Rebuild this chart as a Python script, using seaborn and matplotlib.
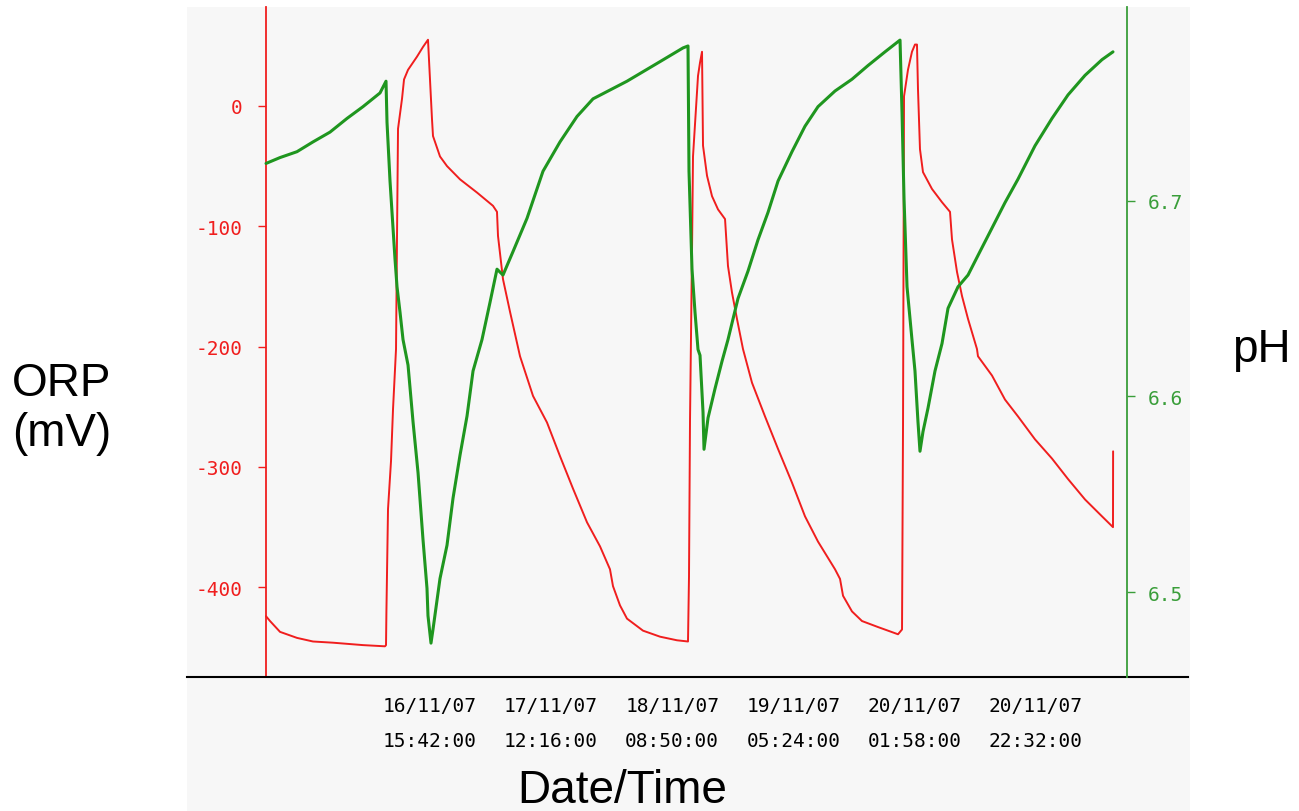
import datetime as dt
import matplotlib
matplotlib.use("Agg")
import matplotlib.pyplot as plt
import matplotlib.dates as mdates
from matplotlib.patches import Rectangle
import pandas as pd
import seaborn as sns

# Начало записи (часы ниже отсчитываются от этого момента)
start = dt.datetime(2007, 11, 15, 11, 51)

# ORP, мВ
orp_hours = [0.0, 0.68, 2.38, 5.26, 7.98, 11.38, 16.47, 20.21, 20.38, 20.45,
             20.72, 21.23, 21.57, 22.08, 22.25, 22.42, 23.10, 23.44, 24.12, 25.65,
             26.66, 27.51, 28.19, 28.36, 29.55, 30.74, 32.95, 35.84, 38.55, 39.23,
             39.40, 40.25, 41.44, 43.14, 45.35, 47.72, 49.93, 52.14, 54.52, 56.73,
             58.42, 58.93, 60.12, 61.31, 64.03, 66.92, 69.80, 71.67, 71.84, 72.01,
             72.35, 72.52, 73.37, 73.71, 74.05, 74.22, 74.90, 75.75, 76.77, 77.96,
             78.46, 79.14, 79.99, 81.01, 82.54, 84.75, 86.96, 89.33, 91.54, 93.75,
             96.64, 97.49, 98.00, 99.52, 101.22, 103.94, 107.34, 108.02, 108.19, 108.36,
             109.03, 109.71, 110.22, 110.56, 110.73, 111.07, 111.58, 113.11, 114.81, 116.17,
             116.51, 117.36, 118.21, 119.23, 120.75, 120.92, 123.30, 125.51, 127.72, 130.60,
             133.49, 136.21, 139.10, 141.98, 143.85, 143.87]
orp_mv = [-424, -428, -437, -442, -445, -446, -448, -449, -448, -420,
          -335, -295, -252, -202, -108, -19, 6, 22, 30, 41,
          49, 55, -11, -25, -42, -50, -61, -72, -83, -88,
          -108, -144, -171, -208, -241, -263, -291, -318, -346, -366,
          -385, -399, -415, -426, -436, -441, -444, -445, -391, -262,
          -121, -42, 25, 36, 45, -33, -58, -75, -86, -94,
          -133, -155, -177, -202, -230, -258, -285, -313, -341, -362,
          -385, -393, -407, -420, -428, -433, -439, -435, -264, 8,
          30, 45, 51, 51, 14, -36, -55, -69, -80, -88,
          -111, -138, -158, -177, -202, -208, -224, -244, -258, -277,
          -293, -310, -327, -341, -350, -287]

# pH
ph_hours = [0.0, 2.38, 5.26, 7.98, 10.87, 13.76, 16.47, 19.36, 20.38, 20.55,
            21.06, 21.57, 21.91, 22.25, 22.76, 23.27, 24.12, 24.97, 25.82, 26.66,
            27.34, 27.51, 28.02, 28.36, 29.55, 30.74, 31.76, 32.95, 34.14, 35.16,
            36.68, 38.04, 39.23, 40.25, 41.95, 44.33, 47.04, 49.93, 52.82, 55.54,
            61.31, 66.92, 70.82, 71.67, 71.84, 72.35, 72.86, 73.37, 73.71, 74.22,
            74.39, 75.07, 76.26, 77.45, 78.46, 80.16, 81.86, 83.56, 85.26, 86.96,
            89.33, 91.54, 93.75, 96.64, 99.52, 102.24, 105.13, 107.68, 108.02, 108.36,
            108.87, 109.71, 110.22, 110.73, 111.07, 111.58, 112.43, 113.62, 114.81, 115.83,
            117.53, 119.23, 120.92, 123.30, 125.51, 127.72, 130.60, 133.49, 136.21, 139.10,
            141.98, 143.85]
ph_values = [6.719, 6.722, 6.725, 6.730, 6.735, 6.742, 6.748, 6.755, 6.761, 6.740,
             6.710, 6.686, 6.670, 6.656, 6.643, 6.629, 6.616, 6.587, 6.561, 6.527,
             6.502, 6.488, 6.474, 6.481, 6.507, 6.524, 6.548, 6.570, 6.590, 6.613,
             6.629, 6.648, 6.665, 6.662, 6.674, 6.691, 6.715, 6.730, 6.743, 6.752,
             6.761, 6.771, 6.778, 6.779, 6.715, 6.665, 6.643, 6.624, 6.621, 6.592,
             6.573, 6.589, 6.604, 6.618, 6.629, 6.650, 6.664, 6.680, 6.694, 6.710,
             6.725, 6.738, 6.748, 6.756, 6.762, 6.769, 6.776, 6.782, 6.745, 6.701,
             6.656, 6.629, 6.613, 6.587, 6.572, 6.582, 6.594, 6.613, 6.627, 6.645,
             6.656, 6.662, 6.672, 6.686, 6.699, 6.711, 6.728, 6.742, 6.754, 6.764,
             6.772, 6.776]

tick_times = ["2007-11-16 15:42", "2007-11-17 12:16", "2007-11-18 08:50",
              "2007-11-19 05:24", "2007-11-20 01:58", "2007-11-20 22:32"]
orp_ticks = [0, -100, -200, -300, -400]
ph_ticks = [6.5, 6.6, 6.7]

RED = "#f01e1e"
GREEN = "#1f961f"
GREEN_AXIS = "#3a9e3a"

sns.set_style("white")
plt.rcParams["font.family"] = "DejaVu Sans Mono"
plt.rcParams["axes.unicode_minus"] = False
plt.rcParams["text.color"] = "black"

orp = pd.DataFrame({"time": start + pd.to_timedelta(orp_hours, unit="h"), "orp": orp_mv})
ph = pd.DataFrame({"time": start + pd.to_timedelta(ph_hours, unit="h"), "ph": ph_values})

fig = plt.figure(figsize=(12.99, 8.12), dpi=100)
fig.patch.set_facecolor("white")
fig.add_artist(Rectangle((187 / 1299, 0), (1190 - 187) / 1299, (812 - 8) / 812,
                         transform=fig.transFigure, facecolor="#f7f7f7",
                         edgecolor="none", zorder=0))

ax = fig.add_axes([187 / 1299, (812 - 678) / 812, (1188 - 187) / 1299, (678 - 8) / 812])
ax.set_facecolor("none")
ax2 = ax.twinx()

sns.lineplot(data=orp, x="time", y="orp", ax=ax, color=RED, lw=1.4,
             estimator=None, sort=False)
sns.lineplot(data=ph, x="time", y="ph", ax=ax2, color=GREEN, lw=2.2,
             estimator=None, sort=False)

ax.set_xlim(start - dt.timedelta(hours=13.42), start + dt.timedelta(hours=156.59))
ax.set_ylim(-474.5, 82.2)
ax2.set_ylim(6.4567, 6.7989)

# оси
for s in ["top", "right"]:
    ax.spines[s].set_visible(False)
for s in ["top", "left", "bottom"]:
    ax2.spines[s].set_visible(False)
ax.spines["left"].set_position(("axes", (266 - 187) / 1001))
ax.spines["left"].set_color(RED)
ax.spines["left"].set_linewidth(1.3)
ax.spines["bottom"].set_color("black")
ax.spines["bottom"].set_linewidth(1.5)
ax2.spines["right"].set_position(("axes", (1127 - 187) / 1001))
ax2.spines["right"].set_color(GREEN_AXIS)
ax2.spines["right"].set_linewidth(1.3)

ax.set_yticks(orp_ticks)
ax.set_yticklabels([str(v) for v in orp_ticks])
ax2.set_yticks(ph_ticks)
ax2.set_yticklabels([f"{v:.1f}" for v in ph_ticks])
ax.set_xticks(pd.to_datetime(tick_times))
ax.xaxis.set_major_formatter(mdates.DateFormatter("%d/%m/%y\n%H:%M:%S"))

ax.tick_params(axis="y", colors=RED, length=6, width=1, pad=11, labelsize=14)
ax2.tick_params(axis="y", colors=GREEN_AXIS, length=6, width=1, pad=9, labelsize=14)
ax.tick_params(axis="x", direction="inout", length=12, width=1.3, colors="black",
               labelsize=14, pad=8)
for lab in ax.get_xticklabels():
    lab.set_linespacing(2.05)

ax.set_xlabel("")
ax.set_ylabel("")
ax2.set_ylabel("")

fig.text(12 / 1299, (812 - 409) / 812, "ORP\n(mV)", family="Liberation Sans",
         fontsize=33, ha="left", va="center", linespacing=1.15, color="black")
fig.text(1232 / 1299, (812 - 362) / 812, "pH", family="Liberation Sans",
         fontsize=33, ha="left", va="baseline", color="black")
fig.text(622 / 1299, (812 - 803) / 812, "Date/Time", family="Liberation Sans",
         fontsize=33, ha="center", va="baseline", color="black")

fig.savefig("out.png", dpi=100)
